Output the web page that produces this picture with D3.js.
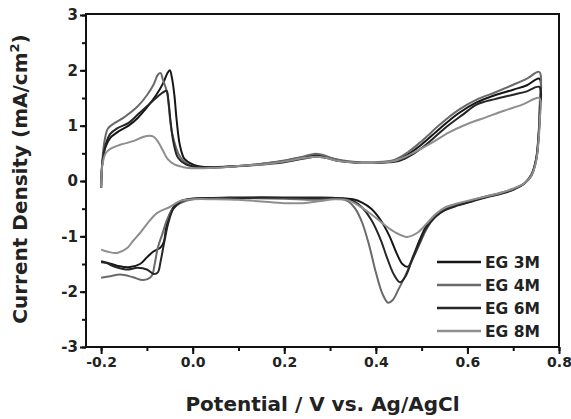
<!DOCTYPE html>
<html>
<head>
<meta charset="utf-8">
<script src="https://cdn.jsdelivr.net/npm/d3@7"></script>
<style>
  body { margin: 0; background: #fff; }
  svg text { font-family: "DejaVu Sans", sans-serif; font-weight: bold; }
</style>
</head>
<body>
<svg id="chart" width="571" height="419"></svg>
<script>
// series names and colours
var seriesNames = ["EG 3M", "EG 4M", "EG 6M", "EG 8M"];
var seriesColors = ["#161616", "#6a6a6a", "#262626", "#8e8e8e"];

// tick values
var xTicks = [-0.2, 0.0, 0.2, 0.4, 0.6, 0.8];
var yTicks = [-3, -2, -1, 0, 1, 2, 3];

// CV loops, [potential (V), current density (mA/cm2)], in scan order
var eg3M = [
  [-0.2, -0.12], [-0.197, 0.35], [-0.19, 0.62], [-0.18, 0.78], [-0.165, 0.88], [-0.14, 1.0],
  [-0.12, 1.14], [-0.1, 1.33], [-0.08, 1.55], [-0.065, 1.76], [-0.055, 1.95], [-0.05, 2.0],
  [-0.045, 1.85], [-0.04, 1.55], [-0.035, 1.1], [-0.028, 0.65], [-0.018, 0.4], [0.0, 0.3],
  [0.03, 0.25], [0.08, 0.26], [0.14, 0.3], [0.2, 0.36], [0.24, 0.43], [0.27, 0.47],
  [0.29, 0.44], [0.32, 0.37], [0.36, 0.33], [0.4, 0.33], [0.44, 0.36], [0.47, 0.48],
  [0.5, 0.66], [0.54, 0.95], [0.58, 1.22], [0.62, 1.42], [0.66, 1.55], [0.7, 1.65],
  [0.73, 1.73], [0.757, 1.85], [0.758, 1.3], [0.755, 0.8], [0.75, 0.4], [0.74, 0.12],
  [0.725, -0.04], [0.7, -0.15], [0.67, -0.23], [0.64, -0.29], [0.61, -0.36], [0.58, -0.43],
  [0.55, -0.52], [0.53, -0.63], [0.51, -0.82], [0.495, -1.08], [0.482, -1.35], [0.47, -1.55],
  [0.458, -1.5], [0.445, -1.3], [0.43, -1.0], [0.41, -0.7], [0.39, -0.5], [0.37, -0.39],
  [0.35, -0.33], [0.32, -0.31], [0.25, -0.31], [0.15, -0.3], [0.08, -0.3], [0.0, -0.32],
  [-0.025, -0.36], [-0.04, -0.45], [-0.05, -0.6], [-0.058, -0.85], [-0.063, -1.1], [-0.07, -1.2],
  [-0.085, -1.27], [-0.1, -1.38], [-0.115, -1.5], [-0.14, -1.56], [-0.165, -1.53], [-0.185, -1.48],
  [-0.2, -1.45]
];
var eg4M = [
  [-0.2, -0.12], [-0.197, 0.4], [-0.192, 0.75], [-0.185, 0.95], [-0.17, 1.05], [-0.15, 1.15],
  [-0.12, 1.35], [-0.1, 1.55], [-0.085, 1.75], [-0.076, 1.92], [-0.07, 1.95], [-0.065, 1.83],
  [-0.056, 1.6], [-0.045, 0.87], [-0.027, 0.43], [0.0, 0.26], [0.05, 0.24], [0.1, 0.27],
  [0.15, 0.31], [0.2, 0.37], [0.24, 0.44], [0.265, 0.49], [0.285, 0.47], [0.31, 0.4],
  [0.35, 0.35], [0.4, 0.34], [0.44, 0.38], [0.47, 0.52], [0.5, 0.72], [0.54, 1.02],
  [0.58, 1.28], [0.62, 1.47], [0.66, 1.6], [0.7, 1.74], [0.73, 1.85], [0.757, 1.97],
  [0.758, 1.4], [0.756, 0.85], [0.751, 0.42], [0.741, 0.14], [0.726, -0.03], [0.7, -0.14],
  [0.67, -0.22], [0.64, -0.28], [0.61, -0.35], [0.58, -0.42], [0.55, -0.52], [0.53, -0.64],
  [0.51, -0.88], [0.495, -1.15], [0.48, -1.42], [0.465, -1.7], [0.45, -1.95], [0.437, -2.15],
  [0.427, -2.2], [0.415, -2.05], [0.4, -1.65], [0.385, -1.15], [0.37, -0.75], [0.355, -0.5],
  [0.34, -0.37], [0.32, -0.31], [0.27, -0.34], [0.2, -0.32], [0.1, -0.31], [0.0, -0.33],
  [-0.027, -0.4], [-0.045, -0.52], [-0.056, -0.7], [-0.066, -0.95], [-0.076, -1.2], [-0.083, -1.5],
  [-0.09, -1.72], [-0.108, -1.79], [-0.13, -1.74], [-0.158, -1.69], [-0.18, -1.72], [-0.2, -1.75]
];
var eg6M = [
  [-0.2, -0.12], [-0.197, 0.35], [-0.19, 0.66], [-0.18, 0.85], [-0.165, 0.95], [-0.14, 1.05],
  [-0.12, 1.2], [-0.1, 1.35], [-0.08, 1.5], [-0.065, 1.6], [-0.057, 1.63], [-0.053, 1.45],
  [-0.048, 1.05], [-0.042, 0.7], [-0.032, 0.42], [-0.015, 0.3], [0.02, 0.25], [0.08, 0.26],
  [0.14, 0.29], [0.2, 0.34], [0.24, 0.4], [0.27, 0.44], [0.29, 0.42], [0.32, 0.36],
  [0.36, 0.33], [0.41, 0.33], [0.45, 0.36], [0.48, 0.48], [0.51, 0.66], [0.55, 0.95],
  [0.59, 1.2], [0.62, 1.38], [0.66, 1.48], [0.7, 1.56], [0.73, 1.62], [0.757, 1.7],
  [0.758, 1.2], [0.755, 0.75], [0.75, 0.38], [0.74, 0.1], [0.724, -0.05], [0.7, -0.16],
  [0.67, -0.24], [0.64, -0.3], [0.61, -0.37], [0.58, -0.44], [0.55, -0.53], [0.53, -0.65],
  [0.51, -0.85], [0.495, -1.12], [0.478, -1.45], [0.465, -1.72], [0.453, -1.83], [0.44, -1.7],
  [0.425, -1.4], [0.41, -1.05], [0.39, -0.7], [0.37, -0.48], [0.35, -0.36], [0.32, -0.31],
  [0.25, -0.3], [0.15, -0.3], [0.08, -0.31], [0.0, -0.32], [-0.025, -0.37], [-0.042, -0.5],
  [-0.053, -0.75], [-0.062, -1.1], [-0.07, -1.45], [-0.076, -1.65], [-0.085, -1.68], [-0.1, -1.6],
  [-0.12, -1.57], [-0.145, -1.6], [-0.17, -1.55], [-0.19, -1.48], [-0.2, -1.47]
];
var eg8M = [
  [-0.2, -0.12], [-0.197, 0.3], [-0.19, 0.5], [-0.18, 0.58], [-0.16, 0.65], [-0.13, 0.72],
  [-0.11, 0.79], [-0.095, 0.82], [-0.085, 0.8], [-0.075, 0.7], [-0.065, 0.55], [-0.055, 0.4],
  [-0.04, 0.3], [-0.02, 0.25], [0.0, 0.23], [0.05, 0.24], [0.1, 0.27], [0.15, 0.3],
  [0.2, 0.35], [0.24, 0.41], [0.27, 0.44], [0.29, 0.42], [0.32, 0.36], [0.36, 0.33],
  [0.4, 0.33], [0.44, 0.36], [0.48, 0.5], [0.52, 0.68], [0.56, 0.88], [0.6, 1.03],
  [0.64, 1.15], [0.68, 1.27], [0.72, 1.38], [0.757, 1.5], [0.758, 1.1], [0.755, 0.7],
  [0.75, 0.35], [0.74, 0.1], [0.725, -0.04], [0.7, -0.14], [0.67, -0.22], [0.64, -0.28],
  [0.61, -0.34], [0.58, -0.4], [0.55, -0.48], [0.53, -0.6], [0.51, -0.78], [0.49, -0.94],
  [0.468, -1.01], [0.445, -0.94], [0.42, -0.8], [0.39, -0.6], [0.36, -0.43], [0.34, -0.35],
  [0.31, -0.33], [0.28, -0.36], [0.24, -0.4], [0.2, -0.4], [0.15, -0.37], [0.1, -0.34],
  [0.05, -0.33], [0.0, -0.33], [-0.027, -0.36], [-0.05, -0.47], [-0.078, -0.58], [-0.1, -0.78],
  [-0.115, -0.94], [-0.13, -1.08], [-0.143, -1.21], [-0.165, -1.3], [-0.185, -1.28], [-0.2, -1.24]
];
var seriesData = [eg3M, eg4M, eg6M, eg8M];

var svg = d3.select("#chart");
var margin = { left: 86, right: 559, top: 15, bottom: 347 };

var x = d3.scaleLinear().domain([-0.233, 0.8]).range([margin.left, margin.right]);
var y = d3.scaleLinear().domain([-3, 3]).range([margin.bottom, margin.top]);

// curves (drawn first so frame sits on top)
var line = d3.line()
  .x(d => x(d[0]))
  .y(d => y(d[1]))
  .curve(d3.curveCatmullRom.alpha(0.5));

svg.append("g")
  .selectAll("path")
  .data(seriesData)
  .enter()
  .append("path")
  .attr("d", line)
  .attr("fill", "none")
  .attr("stroke", (d, i) => seriesColors[i])
  .attr("stroke-width", 2)
  .attr("stroke-linejoin", "round");

// minor ticks
var xMinor = d3.range(-0.2, 0.81, 0.1).map(v => +v.toFixed(2));
var yMinor = d3.range(-3, 3.01, 0.5);

svg.append("g")
  .attr("transform", "translate(0," + margin.bottom + ")")
  .call(d3.axisBottom(x).tickValues(xMinor).tickSize(4).tickFormat(""))
  .call(g => g.select(".domain").remove())
  .selectAll("line").attr("stroke", "#111").attr("stroke-width", 2);

svg.append("g")
  .attr("transform", "translate(" + margin.left + ",0)")
  .call(d3.axisLeft(y).tickValues(yMinor).tickSize(4).tickFormat(""))
  .call(g => g.select(".domain").remove())
  .selectAll("line").attr("stroke", "#111").attr("stroke-width", 2);

// major ticks
var xAxis = svg.append("g")
  .attr("transform", "translate(0," + margin.bottom + ")")
  .call(d3.axisBottom(x).tickValues(xTicks).tickSize(7).tickPadding(3).tickFormat(d => d.toFixed(1)));
xAxis.select(".domain").remove();
xAxis.selectAll("line").attr("stroke", "#111").attr("stroke-width", 2);
xAxis.selectAll("text").attr("font-size", 14).attr("fill", "#222");

var yAxis = svg.append("g")
  .attr("transform", "translate(" + margin.left + ",0)")
  .call(d3.axisLeft(y).tickValues(yTicks).tickSize(6).tickPadding(2).tickFormat(d => String(d)));
yAxis.select(".domain").remove();
yAxis.selectAll("line").attr("stroke", "#111").attr("stroke-width", 2);
yAxis.selectAll("text").attr("font-size", 15).attr("fill", "#222");

// frame
svg.append("rect")
  .attr("x", margin.left)
  .attr("y", margin.top - 1)
  .attr("width", margin.right - margin.left)
  .attr("height", margin.bottom - margin.top + 1)
  .attr("fill", "none")
  .attr("stroke", "#111")
  .attr("stroke-width", 2);

// axis titles
svg.append("text")
  .attr("x", (margin.left + margin.right) / 2)
  .attr("y", 411)
  .attr("text-anchor", "middle")
  .attr("font-size", 20)
  .attr("fill", "#222")
  .text("Potential / V vs. Ag/AgCl");

var yTitle = svg.append("text")
  .attr("transform", "translate(27," + 179 + ") rotate(-90)")
  .attr("text-anchor", "middle")
  .attr("font-size", 20)
  .attr("fill", "#222");
yTitle.append("tspan").text("Current Density (mA/cm");
yTitle.append("tspan").attr("font-size", 13).attr("dy", -8).text("2");
yTitle.append("tspan").attr("dy", 8).text(")");

// legend
var legend = svg.append("g")
  .selectAll("g")
  .data(seriesNames)
  .enter()
  .append("g")
  .attr("transform", (d, i) => "translate(437," + (262 + i * 23) + ")");

legend.append("line")
  .attr("x1", 0).attr("x2", 44)
  .attr("y1", 0).attr("y2", 0)
  .attr("stroke", (d, i) => seriesColors[i])
  .attr("stroke-width", 2.5);

legend.append("text")
  .attr("x", 48)
  .attr("y", 5.5)
  .attr("font-size", 15.5)
  .attr("fill", "#222")
  .text(d => d);
</script>
</body>
</html>
